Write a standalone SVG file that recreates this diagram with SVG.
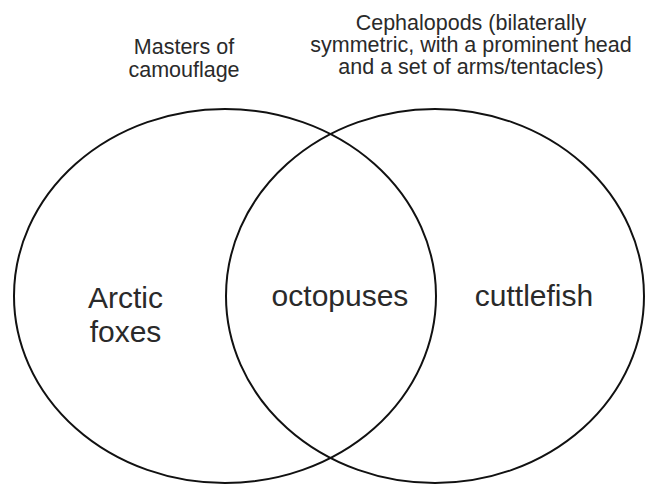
<svg xmlns="http://www.w3.org/2000/svg" width="645" height="485" viewBox="0 0 645 485">
  <style>
    .set { fill: none; stroke: #111; stroke-width: 2; }
    .lbl { font-family: "Liberation Sans", Arial, sans-serif; fill: #2a2a2a; text-anchor: middle; }
    .title { font-size: 21.5px; }
    .item { font-size: 30px; }
  </style>
  <rect width="645" height="485" fill="#fff"/>
  <g id="set-camouflage">
    <ellipse class="set" cx="225" cy="296" rx="211" ry="187"/>
    <text class="lbl title" x="184" y="54">Masters of</text>
    <text class="lbl title" x="184" y="77">camouflage</text>
  </g>
  <g id="set-cephalopods">
    <ellipse class="set" cx="435" cy="296" rx="209" ry="187"/>
    <text class="lbl title" x="471" y="30">Cephalopods (bilaterally</text>
    <text class="lbl title" x="471" y="52">symmetric, with a prominent head</text>
    <text class="lbl title" x="471" y="74">and a set of arms/tentacles)</text>
  </g>
  <g id="arctic-foxes">
    <text class="lbl item" x="125.5" y="308">Arctic</text>
    <text class="lbl item" x="125.5" y="342">foxes</text>
  </g>
  <g id="octopuses">
    <text class="lbl item" x="340" y="306">octopuses</text>
  </g>
  <g id="cuttlefish">
    <text class="lbl item" x="534" y="306">cuttlefish</text>
  </g>
  <g id="connectors"></g>
</svg>
